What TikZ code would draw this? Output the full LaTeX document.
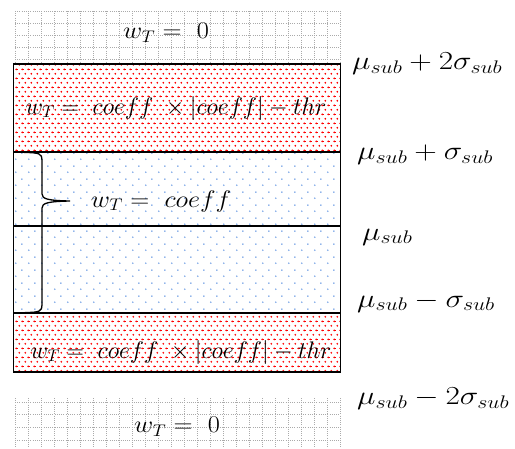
\RequirePackage{fix-cm}
\documentclass[tikz,border=0pt]{standalone}
\usetikzlibrary{patterns.meta}
\definecolor{dotblue}{RGB}{105,155,228}
\definecolor{gridgray}{RGB}{170,170,170}
\pgfdeclarepattern{name=reddots, type=colored,
  bottom left={\pgfpointorigin}, top right={\pgfpoint{6.3pt}{9.4pt}},
  tile size={\pgfpoint{6.3pt}{9.4pt}},
  code={\pgfsetfillcolor{red}
    \pgfpathcircle{\pgfpoint{1.5pt}{2.3pt}}{1.05pt}
    \pgfpathcircle{\pgfpoint{4.65pt}{7pt}}{1.05pt}
    \pgfusepath{fill}}}
\pgfdeclarepattern{name=bluedots, type=colored,
  bottom left={\pgfpointorigin}, top right={\pgfpoint{13pt}{13pt}},
  tile size={\pgfpoint{13pt}{13pt}},
  code={\pgfsetfillcolor{dotblue}
    \pgfpathcircle{\pgfpoint{3pt}{3pt}}{0.9pt}
    \pgfpathcircle{\pgfpoint{9.5pt}{9.5pt}}{0.9pt}
    \pgfusepath{fill}}}
\newcommand{\widen}[1]{\scalebox{1.2}[1]{#1}}
\tikzset{
  gridline/.style={gridgray, line width=0.9pt, dash pattern=on 1pt off 1.2pt},
  border/.style={black, line width=1.4pt},
  bracepath/.style={black, line width=1.3pt},
  eqtext/.style={inner sep=0pt, font=\fontsize{24}{28}\selectfont},
  lvltext/.style={inner sep=0pt, anchor=west, font=\fontsize{26}{30}\selectfont}
}
\begin{document}
\begin{tikzpicture}[x=1pt, y=-1pt]
\useasboundingbox (0,0) rectangle (515,448);
% regions
\fill[white] (13.5,64) rectangle (340.5,372);
\fill[pattern=reddots] (13.5,64) rectangle (340.5,152);
\fill[pattern=bluedots] (13.5,152) rectangle (340.5,313);
\fill[pattern=reddots] (13.5,313) rectangle (340.5,372);
% top grid
\foreach \gx in {15,28,...,340} \draw[gridline] (\gx,11) -- (\gx,64);
\foreach \gy in {11,23,35,47,59.5} \draw[gridline] (15,\gy) -- (340,\gy);
% bottom grid
\foreach \gx in {15,28,...,340} \draw[gridline] (\gx,398) -- (\gx,448);
\foreach \gy in {402,414.5,427,440.5} \draw[gridline] (15,\gy) -- (340,\gy);
% box and separators
\draw[border] (13.5,64) rectangle (340.5,372);
\draw[border] (13.5,152) -- (340.5,152);
\draw[border] (13.5,226) -- (340.5,226);
\draw[border] (13.5,313) -- (340.5,313);
% brace
\coordinate (btop) at (24,152.5);
\coordinate (btip) at (70,201);
\coordinate (bbot) at (25,312.5);
\draw[bracepath] (btop) .. controls (40,152.5) and (42,154) .. (42,160)
  -- (42,194) .. controls (42,199) and (48,200.5) .. (btip)
  .. controls (48,201.5) and (42,203) .. (42,208)
  -- (42,305) .. controls (42,311) and (40,312.5) .. (bbot);
% texts
\node[eqtext] (z1) at (166,33) {\scalebox{1.1}[1]{$w_T =\ 0$}};
\node[eqtext] (r1) at (176,108) {$w_T =\ coeff\ \times|coeff| - thr$};
\node[eqtext] (c1) at (161,201) {\scalebox{1.1}[1]{$w_T =\ coeff$}};
\node[eqtext] (r2) at (181,352) {$w_T =\ coeff\ \times|coeff| - thr$};
\node[eqtext] (z2) at (177,427) {\scalebox{1.1}[1]{$w_T =\ 0$}};
% level labels
\node[lvltext] (l1) at (352,64) {\widen{$\mu_{sub}+2\sigma_{sub}$}};
\node[lvltext] (l2) at (357,155) {\widen{$\mu_{sub}+\sigma_{sub}$}};
\node[lvltext] (l3) at (362,237) {\widen{$\mu_{sub}$}};
\node[lvltext] (l4) at (357,302) {\widen{$\mu_{sub}-\sigma_{sub}$}};
\node[lvltext] (l5) at (357,399) {\widen{$\mu_{sub}-2\sigma_{sub}$}};
\end{tikzpicture}
\end{document}
